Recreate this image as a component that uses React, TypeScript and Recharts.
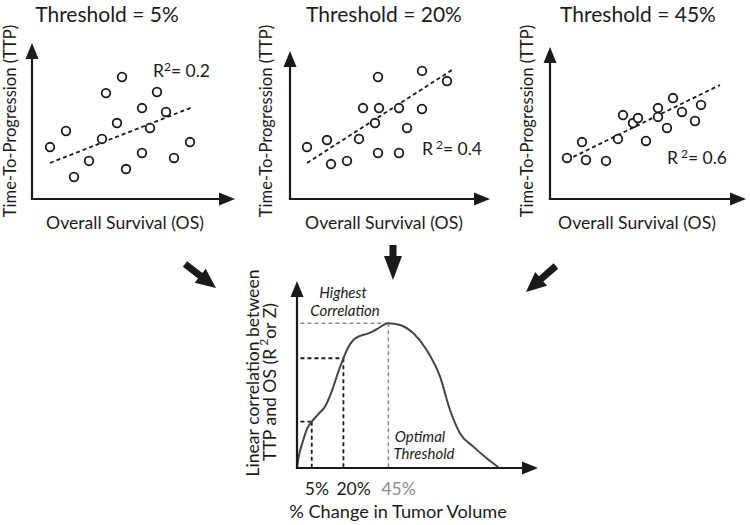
import React from 'react';
import { ScatterChart, Scatter, XAxis, YAxis, ReferenceLine, ComposedChart, Line } from 'recharts';

const FONT = 'Lato, "Open Sans", sans-serif';
const INK = '#1a1a1a';
const GREY = '#8a8a8a';

// top panels: OS (x) vs TTP (y), arbitrary 0-100 units
const titles = ['Threshold = 5%', 'Threshold = 20%', 'Threshold = 45%'];
const r2Values = ['0.2', '0.4', '0.6'];

const os5 = [9, 17, 21, 28.5, 35, 37, 42.5, 45, 47, 55, 55, 59, 62.5, 67, 71, 79];
const ttp5 = [33.3, 43.6, 14.1, 24.4, 38.5, 67.9, 48.7, 78.2, 19.2, 58.3, 29.5, 45.5, 68.6, 55.8, 26.3, 36.5];
const fit5 = [[9, 23.1], [80.5, 59]];

const os20 = [8.5, 18.5, 20.5, 28.5, 34.5, 36.5, 44, 44.5, 42.5, 44, 54.5, 54.5, 58.5, 66, 66, 78.5];
const ttp20 = [33.3, 37.8, 22.4, 24.4, 38.5, 58.3, 78.2, 58.3, 48.7, 29.5, 58.3, 29.5, 45.5, 82.1, 57.7, 75.6];
const fit20 = [[8.5, 23.1], [81, 82.7]];

const os45 = [8.5, 16, 18, 28, 34, 36.5, 41.5, 44, 48, 54, 54, 58.5, 61.5, 66, 72.5, 75.5];
const ttp45 = [26.3, 36.5, 25, 24.4, 38.5, 53.8, 48.7, 51.9, 37.2, 58.3, 52.6, 45.5, 64.7, 55.8, 50, 60.3];
const fit45 = [[8.5, 25], [85, 73.1]];

// bottom: correlation vs % change in tumor volume (schematic units)
const curveX = [0, 0.7, 2.4, 4.3, 6.2, 9.0, 11.8, 14.6, 17.4, 19.5, 21.6, 23.7, 26.5, 30.0, 33.5, 38.4, 43.3, 48.9, 54.5, 60.1, 64.3, 68.5, 74.1, 79.7, 84.6];
const curveY = [0, 6.0, 14.1, 21.3, 24.9, 29.0, 33.1, 41.2, 51.9, 59.0, 65.0, 68.8, 71.0, 72.4, 74.6, 77.8, 76.9, 72.4, 63.4, 49.1, 31.2, 18.6, 11.5, 5.2, 0.4];
const thresholdPos = [6.2, 19.5, 38.4];
const thresholdCorr = [24.9, 59.0, 77.8];
const thresholdLabels = ['5%', '20%', '45%'];

const Ring = (props: any) => (
  <circle cx={props.cx} cy={props.cy} r={4.3} fill="#fff" stroke={INK} strokeWidth={1.8} />
);

const Panel = ({ left, os, ttp, fit }: any) => {
  const data = os.map((x: number, i: number) => ({ x, y: ttp[i] }));
  return (
    <div style={{ position: 'absolute', left, top: 43 }}>
      <ScatterChart width={200} height={156} margin={{ top: 0, right: 0, bottom: 0, left: 0 }}>
        <XAxis type="number" dataKey="x" domain={[0, 100]} hide />
        <YAxis type="number" dataKey="y" domain={[0, 100]} hide />
        <ReferenceLine
          segment={[{ x: fit[0][0], y: fit[0][1] }, { x: fit[1][0], y: fit[1][1] }]}
          stroke={INK}
          strokeWidth={1.8}
          strokeDasharray="4 3"
        />
        <Scatter data={data} shape={Ring} isAnimationActive={false} />
      </ScatterChart>
    </div>
  );
};

const ThresholdTick = (props: any) => {
  const i = thresholdPos.indexOf(props.payload.value);
  return (
    <text x={props.x - 7} y={213} fontSize={17.5} fontFamily={FONT} fill={i === 2 ? GREY : INK} textAnchor="start">
      {thresholdLabels[i]}
    </text>
  );
};

const CorrelationChart = () => {
  const data = curveX.map((x, i) => ({ x, y: curveY[i] }));
  return (
    <div style={{ position: 'absolute', left: 297, top: 282 }}>
      <ComposedChart width={238} height={216} data={data} margin={{ top: 0, right: 0, bottom: 0, left: 0 }}>
        <XAxis
          type="number"
          dataKey="x"
          domain={[0, 100]}
          ticks={thresholdPos}
          tick={<ThresholdTick />}
          axisLine={false}
          tickLine={false}
          height={30}
          interval={0}
        />
        <YAxis type="number" domain={[0, 100]} hide />
        {thresholdPos.map((u, i) => (
          <ReferenceLine
            key={'h' + i}
            segment={[{ x: -1.5, y: thresholdCorr[i] }, { x: u, y: thresholdCorr[i] }]}
            ifOverflow="visible"
            stroke={i === 2 ? GREY : INK}
            strokeWidth={i === 2 ? 1.5 : 1.8}
            strokeDasharray="4 3"
          />
        ))}
        {thresholdPos.map((u, i) => (
          <ReferenceLine
            key={'v' + i}
            segment={[{ x: u, y: thresholdCorr[i] }, { x: u, y: 0 }]}
            stroke={i === 2 ? GREY : INK}
            strokeWidth={i === 2 ? 1.5 : 1.8}
            strokeDasharray="4 3"
          />
        ))}
        <Line type="monotone" dataKey="y" stroke="#444" strokeWidth={2} dot={false} isAnimationActive={false} />
      </ComposedChart>
    </div>
  );
};

// axis with arrowheads
const Axes = ({ x0, y0, yTip, xTip }: any) => (
  <g>
    <line x1={x0} y1={y0} x2={x0} y2={yTip + 12} stroke={INK} strokeWidth={2.2} />
    <polygon points={`${x0},${yTip} ${x0 - 6.5},${yTip + 16} ${x0 + 6.5},${yTip + 16}`} fill={INK} />
    <line x1={x0 - 1.1} y1={y0} x2={xTip - 12} y2={y0} stroke={INK} strokeWidth={2.2} />
    <polygon points={`${xTip},${y0} ${xTip - 16},${y0 - 6.5} ${xTip - 16},${y0 + 6.5}`} fill={INK} />
  </g>
);

// big block arrow from tail to tip
const BlockArrow = ({ x1, y1, x2, y2, head = 20, hw = 9, sw = 3.5 }: any) => {
  const len = Math.hypot(x2 - x1, y2 - y1);
  const ang = (Math.atan2(y2 - y1, x2 - x1) * 180) / Math.PI;
  const b = len - head;
  return (
    <polygon
      transform={`translate(${x1},${y1}) rotate(${ang})`}
      points={`0,${-sw} ${b},${-sw} ${b},${-hw} ${len},0 ${b},${hw} ${b},${sw} 0,${sw}`}
      fill={INK}
    />
  );
};

const panelLeft = [32, 290, 550];
const panelYTip = [43, 51, 47];
const panelXTip = [235, 490, 746];
const titleX = [107, 384, 638];
const yLabelX = [10, 266, 527];
const xLabelX = [125, 384, 637];
const r2Pos = [[153, 77, 0], [422, 155, 3], [667, 164, 3]];

export default function App() {
  const fits = [fit5, fit20, fit45];
  const oss = [os5, os20, os45];
  const ttps = [ttp5, ttp20, ttp45];
  return (
    <div style={{ position: 'fixed', left: 0, top: 0, width: 750, height: 525, background: '#fff', overflow: 'hidden' }}>
      {panelLeft.map((l, i) => (
        <Panel key={i} left={l} os={oss[i]} ttp={ttps[i]} fit={fits[i]} />
      ))}
      <CorrelationChart />
      <svg width={750} height={525} style={{ position: 'absolute', left: 0, top: 0, pointerEvents: 'none' }} fontFamily={FONT} fill={INK}>
        {panelLeft.map((l, i) => (
          <g key={i}>
            <Axes x0={l} y0={199} yTip={panelYTip[i]} xTip={panelXTip[i]} />
            <text x={titleX[i]} y={22} fontSize={21} textAnchor="middle">{titles[i]}</text>
            <text transform={`translate(${yLabelX[i]},121) rotate(-90)`} fontSize={16.6} textAnchor="middle" dominantBaseline="central">
              Time-To-Progression (TTP)
            </text>
            <text x={xLabelX[i]} y={229} fontSize={17.6} textAnchor="middle">Overall Survival (OS)</text>
            <text x={r2Pos[i][0]} y={r2Pos[i][1]} fontSize={17.5}>
              R<tspan dx={r2Pos[i][2]} dy={-6} fontSize={12}>2</tspan>
              <tspan dy={6}>= {r2Values[i]}</tspan>
            </text>
          </g>
        ))}

        <BlockArrow x1={185} y1={264} x2={216} y2={288} />
        <BlockArrow x1={393} y1={245} x2={393} y2={280} head={24} />
        <BlockArrow x1={556} y1={266} x2={526} y2={292} />

        <Axes x0={297} y0={468} yTip={281} xTip={538} />
        <text transform="translate(252,373) rotate(-90)" fontSize={17.6} textAnchor="middle" dominantBaseline="central">
          Linear correlation between
        </text>
        <text transform="translate(269,382) rotate(-90)" fontSize={17.6} textAnchor="middle" dominantBaseline="central">
          TTP and OS (R<tspan dx={3} dy={-6} fontSize={12}>2</tspan>
          <tspan dy={6}>or Z)</tspan>
        </text>
        <text x={398} y={518} fontSize={18.2} textAnchor="middle">% Change in Tumor Volume</text>
        <text x={343} y={298} fontSize={15} fontStyle="italic" textAnchor="middle">Highest</text>
        <text x={345} y={316} fontSize={15} fontStyle="italic" textAnchor="middle">Correlation</text>
        <text x={420} y={442} fontSize={15} fontStyle="italic" textAnchor="middle">Optimal</text>
        <text x={424} y={459} fontSize={15} fontStyle="italic" textAnchor="middle">Threshold</text>
      </svg>
    </div>
  );
}
